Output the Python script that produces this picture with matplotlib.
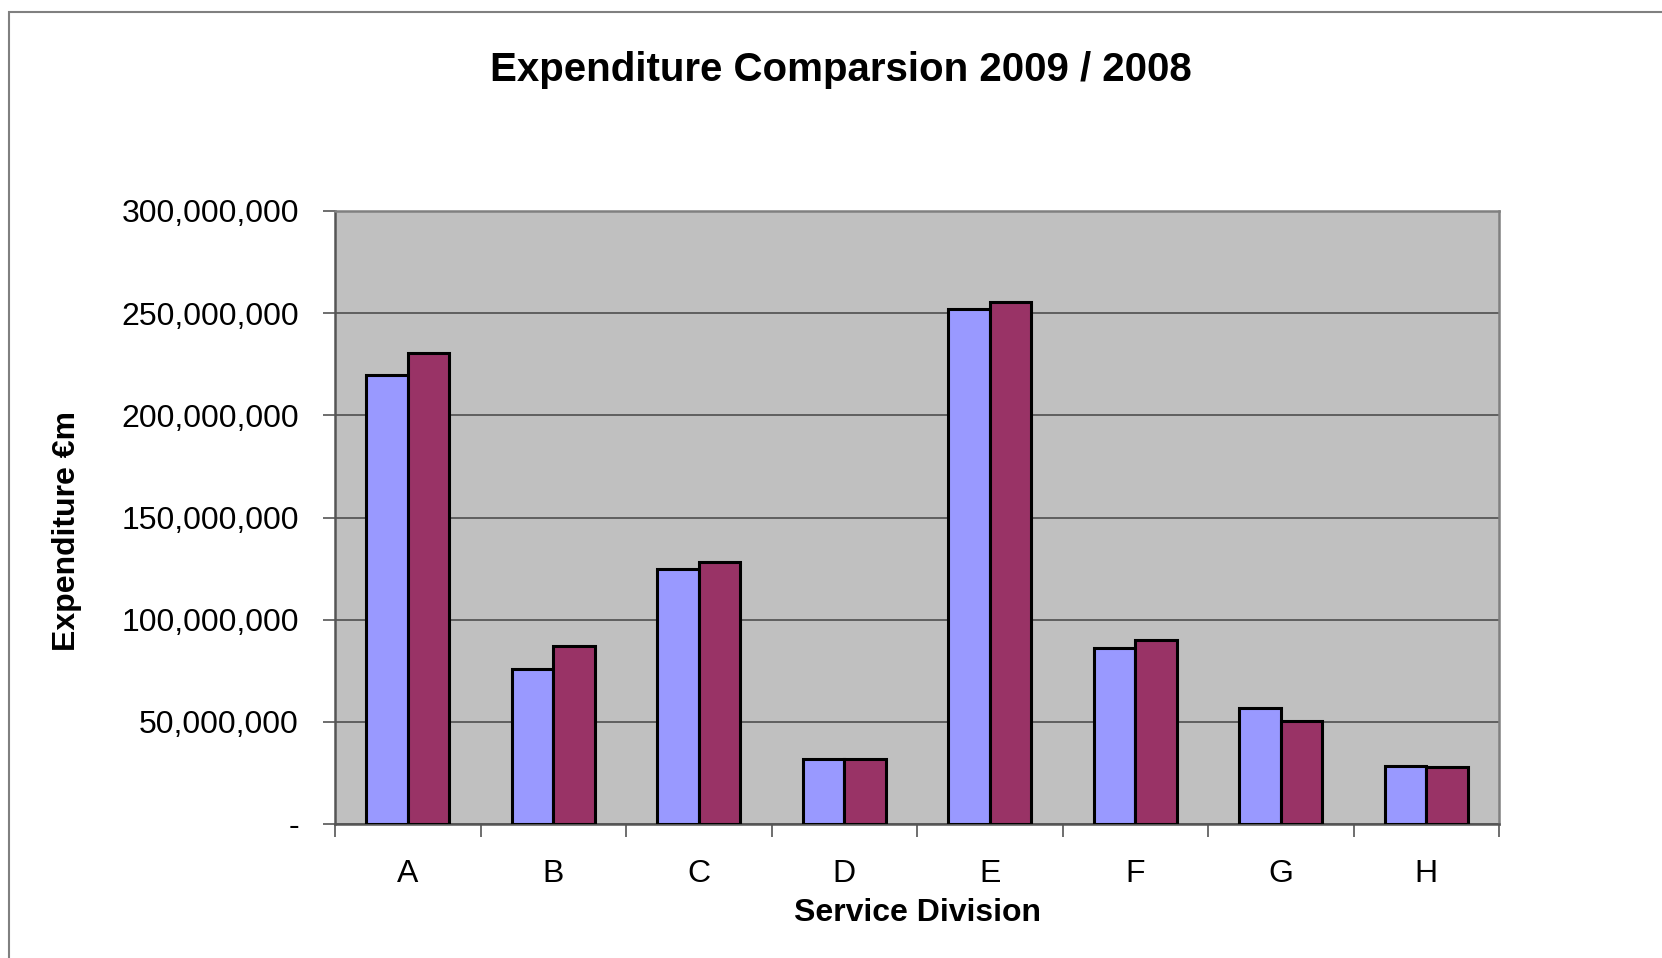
import numpy as np
import matplotlib.pyplot as plt
from matplotlib.patches import Rectangle
from matplotlib.ticker import FuncFormatter, MultipleLocator

plt.rcParams["font.family"] = ["Liberation Sans", "DejaVu Sans"]

divisions = ["A", "B", "C", "D", "E", "F", "G", "H"]
spend_2009 = [219.5e6, 75.7e6, 125.0e6, 32.0e6, 252.1e6, 86.1e6, 56.6e6, 28.5e6]
spend_2008 = [230.5e6, 87.0e6, 128.3e6, 32.0e6, 255.4e6, 89.9e6, 50.4e6, 27.9e6]

W, H = 1662, 958
fig = plt.figure(figsize=(W / 100, H / 100), dpi=100)
# plot area in pixels: x 335..1499, y 211..824
ax = fig.add_axes([335 / W, 1 - 824 / H, (1499 - 335) / W, (824 - 211) / H])

# outer chart border, runs off the right and bottom edges
fig.patches.append(Rectangle((9 / W, -0.05), 1.2, 1 - 12 / H + 0.05,
                             transform=fig.transFigure, fill=False,
                             edgecolor="#808080", lw=1.5))

x = np.arange(len(divisions))
bw = 1 / 3.5   # Excel gap width 150%
ax.bar(x - bw / 2, spend_2009, bw, color="#9999FF", edgecolor="black",
       lw=2.2, zorder=3, label="2009")
ax.bar(x + bw / 2, spend_2008, bw, color="#993366", edgecolor="black",
       lw=2.2, zorder=3, label="2008")

ax.set_facecolor("#C0C0C0")
ax.set_xlim(-0.5, len(divisions) - 0.5)
ax.set_ylim(0, 300e6)
ax.yaxis.set_major_locator(MultipleLocator(50e6))
ax.yaxis.set_major_formatter(FuncFormatter(lambda v, p: "-" if v == 0 else f"{v:,.0f}"))
ax.grid(axis="y", color="#5f5f5f", lw=1.4, zorder=1)

ax.set_xticks(x)
ax.set_xticklabels(divisions)
ax.set_xticks(np.arange(len(divisions) + 1) - 0.5, minor=True)
ax.tick_params(axis="x", which="major", length=0, pad=25, labelsize=23)
ax.tick_params(axis="x", which="minor", length=9, width=1.2, color="#555555")
ax.tick_params(axis="y", length=9, width=1.2, color="#555555", pad=17, labelsize=23)

for side in ["left", "bottom", "top", "right"]:
    ax.spines[side].set_color("#808080")
    ax.spines[side].set_linewidth(1.8)
ax.spines["left"].set_color("#555555")
ax.spines["bottom"].set_color("#555555")

fig.text(841 / W, 1 - 70 / H, "Expenditure Comparsion 2009 / 2008",
         ha="center", va="center", fontsize=29, fontweight="bold")
fig.text(917 / W, 1 - 913 / H, "Service Division",
         ha="center", va="center", fontsize=23, fontweight="bold")
fig.text(67 / W, 1 - 531 / H, "Expenditure €m", rotation=90,
         ha="center", va="center", fontsize=23, fontweight="bold")

fig.savefig("out.png", dpi=100, facecolor="white")
